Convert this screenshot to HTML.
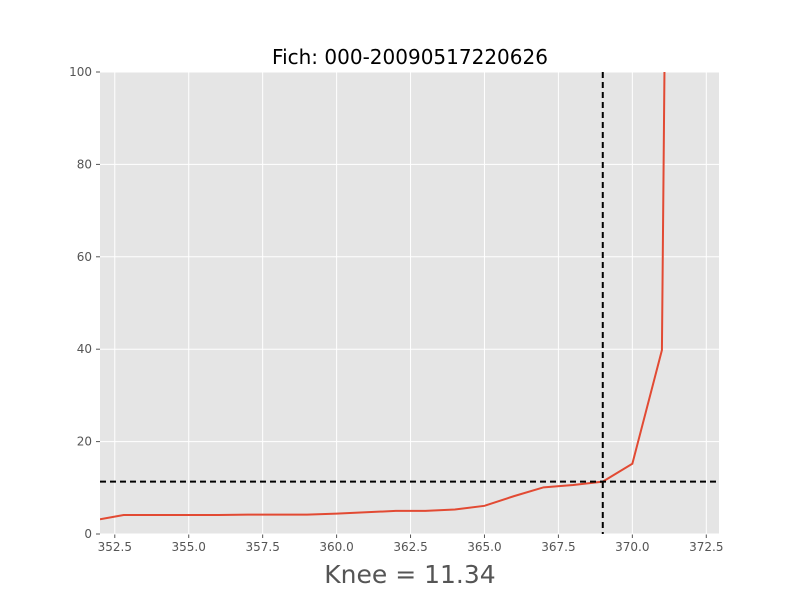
<!DOCTYPE html>
<html><head><meta charset="utf-8"><style>
body{margin:0;background:#fff;}
text{font-family:"DejaVu Sans","Liberation Sans",sans-serif;}
</style></head><body>
<svg id="c" width="800" height="600" xmlns="http://www.w3.org/2000/svg"></svg>
<script>
const xVals=[352,352.8,354,356,357,359,360,362,363,364,365,366,367,368,369,370,371,371.1];
const yVals=[3.2,4.1,4.1,4.1,4.2,4.2,4.4,5.0,5.0,5.3,6.1,8.2,10.1,10.6,11.34,15.2,39.8,110];
const xTicks=[352.5,355.0,357.5,360.0,362.5,365.0,367.5,370.0,372.5];
const yTicks=[0,20,40,60,80,100];
const kneeX=369, kneeY=11.34;
const L=100,R=719,T=72,B=534,x0=352,x1=372.93,y0=0,y1=100;
const sx=v=>L+(v-x0)/(x1-x0)*(R-L), sy=v=>B-(v-y0)/(y1-y0)*(B-T);
const s=document.getElementById('c'),NS='http://www.w3.org/2000/svg';
function mk(t,a,p){const e=document.createElementNS(NS,t);for(const k in a)e.setAttribute(k,a[k]);(p||s).appendChild(e);return e;}
let e=mk('rect',{x:L,y:T,width:R-L,height:B-T,fill:'#e5e5e5'});


xTicks.forEach(v=>{const x=sx(v);
 let g=mk('line',{x1:x,x2:x,y1:T,y2:B,stroke:'#fff','stroke-width':1});
 
 
 mk('line',{x1:x,x2:x,y1:B,y2:B+4,stroke:'#555'});
 let t=mk('text',{x:x,y:B+17,'text-anchor':'middle','font-size':12,fill:'#555'});t.textContent=v.toFixed(1);
 
 });
yTicks.forEach(v=>{const y=sy(v);
 let g=mk('line',{x1:L,x2:R,y1:y,y2:y,stroke:'#fff','stroke-width':1});
 
 
 mk('line',{x1:L-4,x2:L,y1:y,y2:y,stroke:'#555'});
 let t=mk('text',{x:L-8,y:y+4,'text-anchor':'end','font-size':12,fill:'#555'});t.textContent=v;
 
 });
mk('clipPath',{id:'cp'});mk('rect',{x:L,y:T,width:R-L,height:B-T},s.lastChild);
let p=mk('polyline',{points:xVals.map((v,i)=>sx(v)+','+sy(yVals[i])).join(' '),fill:'none',stroke:'#e24a33','stroke-width':2,'clip-path':'url(#cp)'});


let h=mk('line',{x1:L,x2:R,y1:sy(kneeY),y2:sy(kneeY),stroke:'#000','stroke-width':2,'stroke-dasharray':'6,4'});


let v=mk('line',{x1:sx(kneeX),x2:sx(kneeX),y1:T,y2:B,stroke:'#000','stroke-width':2,'stroke-dasharray':'6,4'});


let ti=mk('text',{x:410,y:64,'text-anchor':'middle','font-size':20,fill:'#000'});ti.textContent='Fich: 000-20090517220626';


let xl=mk('text',{x:410,y:583,'text-anchor':'middle','font-size':25,fill:'#555'});xl.textContent='Knee = 11.34';


</script></body></html>
